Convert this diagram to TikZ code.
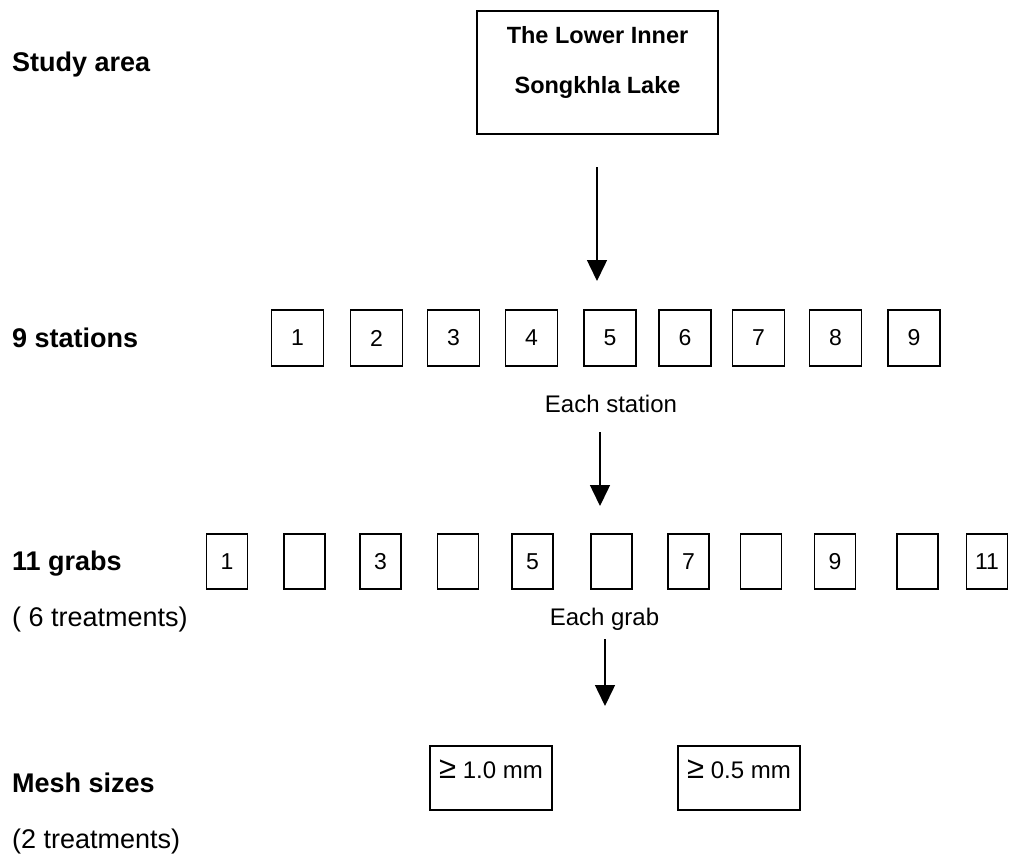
\documentclass[tikz,border=0pt]{standalone}
\usepackage{fontspec}
\setmainfont{Liberation Sans}
\usetikzlibrary{arrows.meta}

\newcommand{\bigge}{{\fontsize{31}{31}\selectfont ≥}}

\begin{document}
\begin{tikzpicture}[x=1pt, y=-1pt,
        rowlabel/.style={anchor=base west, inner sep=0, font=\fontsize{27}{30}\selectfont\bfseries},
        sublabel/.style={anchor=base west, inner sep=0, font=\fontsize{27}{30}\selectfont},
        note/.style={anchor=base, inner sep=0, font=\fontsize{24}{27}\selectfont},
        stbox/.style={draw=black, line width=1.6pt, minimum width=52pt, minimum height=56pt, inner sep=0, font=\fontsize{23}{26}\selectfont},
        grbox/.style={draw=black, line width=1.6pt, minimum width=41pt, minimum height=55pt, inner sep=0, font=\fontsize{23}{26}\selectfont},
        meshbox/.style={draw=black, line width=1.6pt, minimum width=122pt, minimum height=64pt, inner sep=0, text height=17pt, text depth=17pt, font=\fontsize{24}{27}\selectfont},
        flow/.style={black, line width=1.5pt, -{Triangle[width=20pt, length=21pt]}}
    ]
                      \useasboundingbox (0,0) rectangle (1009,862);

                      % row labels
                      \node[rowlabel] (lstudy) at (12,71) {Study area};
                      \node[rowlabel] (lstations) at (12,347) {9 stations};
                      \node[rowlabel] (lgrabs) at (12,570) {11 grabs};
                      \node[sublabel] (lgrabsub) at (12,626) {( 6 treatments)};
                      \node[rowlabel] (lmesh) at (12,792) {Mesh sizes};
                      \node[sublabel] (lmeshsub) at (12,848) {(2 treatments)};

                      % study area
                      \node[draw=black, line width=1.6pt, minimum width=241pt, minimum height=123pt] (lake) at (597.5,72.5) {};
                      \node[anchor=base, inner sep=0, font=\fontsize{23.5}{26}\selectfont\bfseries] (lake1) at (597.5,43) {The Lower Inner};
                      \node[anchor=base, inner sep=0, font=\fontsize{23.5}{26}\selectfont\bfseries] (lake2) at (597.5,93) {Songkhla Lake};

                      % stations
                      \foreach \n/\x in {1/297.5, 2/376.5, 3/453.5, 4/531.5, 5/610, 6/685, 7/758.5, 8/835.5, 9/914} {
                              \node[stbox] (st\n) at (\x,338) {\n};
                          }
                      \node[note] (eachst) at (611,412) {Each station};

                      % grabs
                      \foreach \n/\x/\t in {1/227/1, 2/304.5/, 3/380.5/3, 4/458/, 5/532.5/5, 6/611.5/, 7/688.5/7, 8/761/, 9/835/9, 10/917.5/, 11/987/11} {
                              \node[grbox] (gr\n) at (\x,561.5) {\t};
                          }
                      \node[note] (eachgr) at (604.5,625) {Each grab};

                      % mesh sizes
                      \node[meshbox] (mesh1) at (491,778) {\bigge\ 1.0 mm};
                      \node[meshbox] (mesh2) at (739,778) {\bigge\ 0.5 mm};

                      % arrows
                      \coordinate (a1) at (597,167);
                      \coordinate (b1) at (597,281);
                      \coordinate (a2) at (600,432);
                      \coordinate (b2) at (600,506);
                      \coordinate (a3) at (605,639);
                      \coordinate (b3) at (605,706);
                      \draw[flow] (a1) -- (b1);
                      \draw[flow] (a2) -- (b2);
                      \draw[flow] (a3) -- (b3);

                  \end{tikzpicture}
\end{document}
